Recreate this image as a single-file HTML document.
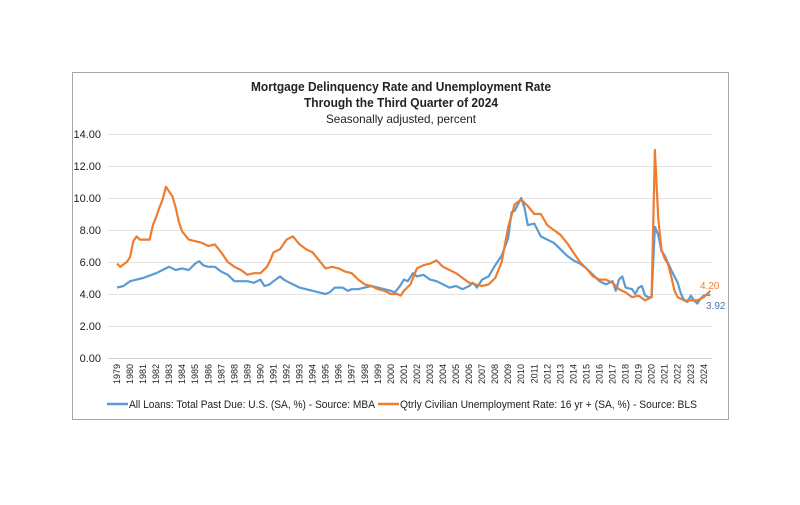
<!DOCTYPE html>
<html><head><meta charset="utf-8"><style>
body{margin:0;background:#fff;width:800px;height:500px;overflow:hidden}
svg text{font-family:"Liberation Sans",sans-serif;fill:#222}
</style></head><body>
<svg id="s" width="800" height="500" xmlns="http://www.w3.org/2000/svg">
<rect x="72.5" y="72.5" width="656" height="347" fill="#fff" stroke="#a6a6a6" stroke-width="1"/>
<text x="251" y="91" font-size="12.5" font-weight="bold" textLength="300" lengthAdjust="spacingAndGlyphs">Mortgage Delinquency Rate and Unemployment Rate</text>
<text x="304" y="107" font-size="12.5" font-weight="bold" textLength="194" lengthAdjust="spacingAndGlyphs">Through the Third Quarter of 2024</text>
<text x="326" y="123" font-size="12" textLength="150" lengthAdjust="spacingAndGlyphs">Seasonally adjusted, percent</text>
<g id="grid"></g>
<g id="lines"></g>
<text x="700" y="289" font-size="10" style="fill:#ED7D31">4.20</text>
<text x="706" y="309" font-size="10" style="fill:#4A78B8">3.92</text>
<line x1="107" y1="404" x2="128" y2="404" stroke="#5B9BD5" stroke-width="2.5"/>
<text x="129" y="408" font-size="11" textLength="246" lengthAdjust="spacingAndGlyphs">All Loans: Total Past Due: U.S. (SA, %) - Source: MBA</text>
<line x1="378" y1="404" x2="399" y2="404" stroke="#ED7D31" stroke-width="2.5"/>
<text x="400" y="408" font-size="11" textLength="297" lengthAdjust="spacingAndGlyphs">Qtrly Civilian Unemployment Rate: 16 yr + (SA, %) - Source: BLS</text>
</svg>
<script>
var NS="http://www.w3.org/2000/svg";
function X(t){return 117+(t-1979)*13.04;}
function Y(v){return 358-16*v;}
var g=document.getElementById('grid');
for(var v=0;v<=14;v+=2){
 var l=document.createElementNS(NS,'line');l.setAttribute('x1',108);l.setAttribute('x2',712);
 l.setAttribute('y1',Y(v)+0.5);l.setAttribute('y2',Y(v)+0.5);l.setAttribute('stroke',v==0?'#d0d0d0':'#e3e3e3');g.appendChild(l);
 var t=document.createElementNS(NS,'text');t.setAttribute('x',101);t.setAttribute('y',Y(v)+4);t.setAttribute('text-anchor','end');t.setAttribute('font-size','11');t.textContent=v.toFixed(2);g.appendChild(t);
}
for(var y=1979;y<=2024;y++){
 var t=document.createElementNS(NS,'text');var x=X(y)+3;
 t.setAttribute('transform','translate('+x+',364) rotate(-90)');t.setAttribute('text-anchor','end');t.setAttribute('font-size','9');t.textContent=y;g.appendChild(t);
}
var blue=[1979,4.4,1979.5,4.5,1980,4.8,1981,5.0,1982,5.3,1982.5,5.5,1983,5.7,1983.5,5.5,1984,5.6,1984.5,5.5,1985,5.9,1985.3,6.05,1985.6,5.8,1986,5.7,1986.5,5.7,1987,5.4,1987.5,5.2,1988,4.8,1988.5,4.8,1989,4.8,1989.5,4.7,1990,4.9,1990.3,4.5,1990.7,4.6,1991,4.8,1991.5,5.1,1991.8,4.9,1992,4.8,1992.5,4.6,1993,4.4,1993.5,4.3,1994,4.2,1994.5,4.1,1995,4.0,1995.3,4.1,1995.7,4.4,1996.3,4.4,1996.7,4.2,1997,4.3,1997.5,4.3,1998,4.4,1998.5,4.5,1999,4.4,1999.5,4.3,2000,4.2,2000.3,4.1,2000.7,4.5,2001,4.9,2001.3,4.8,2001.7,5.3,2002,5.1,2002.5,5.2,2003,4.9,2003.5,4.8,2004,4.6,2004.5,4.4,2005,4.5,2005.5,4.3,2006,4.5,2006.3,4.7,2006.6,4.4,2007,4.9,2007.5,5.1,2008,5.8,2008.5,6.4,2009,7.5,2009.25,9.1,2009.5,9.2,2009.75,9.6,2010,10.0,2010.25,9.4,2010.5,8.3,2011,8.4,2011.5,7.6,2012,7.4,2012.5,7.2,2013,6.8,2013.5,6.4,2014,6.1,2014.5,5.9,2015,5.6,2015.5,5.2,2016,4.8,2016.5,4.6,2017,4.8,2017.25,4.2,2017.5,4.9,2017.75,5.1,2018,4.4,2018.5,4.3,2018.75,4.0,2019,4.4,2019.25,4.5,2019.5,3.9,2019.75,3.8,2020,3.8,2020.25,8.2,2020.5,7.7,2020.75,6.7,2021,6.4,2021.5,5.5,2022,4.7,2022.25,4.0,2022.5,3.6,2022.75,3.5,2023,3.9,2023.25,3.6,2023.5,3.4,2023.75,3.7,2024,3.9,2024.25,3.95,2024.5,3.92];
var orange=[1979,5.9,1979.25,5.7,1979.75,6.0,1980,6.3,1980.25,7.3,1980.5,7.6,1980.75,7.4,1981.5,7.4,1981.75,8.3,1982,8.8,1982.25,9.4,1982.5,9.9,1982.75,10.7,1983,10.4,1983.25,10.1,1983.5,9.4,1983.75,8.5,1984,7.9,1984.5,7.4,1985,7.3,1985.5,7.2,1986,7.0,1986.5,7.1,1987,6.6,1987.5,6.0,1988,5.7,1988.5,5.5,1989,5.2,1989.5,5.3,1990,5.3,1990.5,5.7,1990.75,6.1,1991,6.6,1991.5,6.8,1992,7.4,1992.5,7.6,1993,7.1,1993.5,6.8,1994,6.6,1994.5,6.1,1995,5.6,1995.5,5.7,1996,5.6,1996.5,5.4,1997,5.3,1997.5,4.9,1998,4.6,1998.5,4.5,1999,4.3,1999.5,4.2,2000,4.0,2000.5,4.0,2000.75,3.9,2001,4.2,2001.5,4.6,2002,5.6,2002.5,5.8,2003,5.9,2003.5,6.1,2004,5.7,2004.5,5.5,2005,5.3,2005.5,5.0,2006,4.7,2006.5,4.6,2007,4.5,2007.5,4.6,2008,5.0,2008.5,6.0,2009,8.2,2009.5,9.6,2010,9.9,2010.5,9.5,2011,9.0,2011.5,9.0,2012,8.3,2012.5,8.0,2013,7.7,2013.5,7.2,2014,6.6,2014.5,6.0,2015,5.6,2015.5,5.1,2016,4.9,2016.5,4.9,2017,4.7,2017.5,4.3,2018,4.1,2018.5,3.8,2019,3.9,2019.5,3.6,2020,3.8,2020.25,13.0,2020.5,8.8,2020.75,6.8,2021,6.2,2021.25,5.9,2021.5,5.1,2021.75,4.2,2022,3.8,2022.5,3.6,2023,3.6,2023.5,3.6,2024,3.8,2024.5,4.2];
function draw(d,c){var p=[];for(var i=0;i<d.length;i+=2)p.push(X(d[i]).toFixed(1)+','+Y(d[i+1]).toFixed(1));
 var e=document.createElementNS(NS,'polyline');e.setAttribute('points',p.join(' '));e.setAttribute('fill','none');e.setAttribute('stroke',c);e.setAttribute('stroke-width','2.2');e.setAttribute('stroke-linejoin','round');document.getElementById('lines').appendChild(e);}
draw(blue,'#5B9BD5');draw(orange,'#ED7D31');
</script>
</body></html>
